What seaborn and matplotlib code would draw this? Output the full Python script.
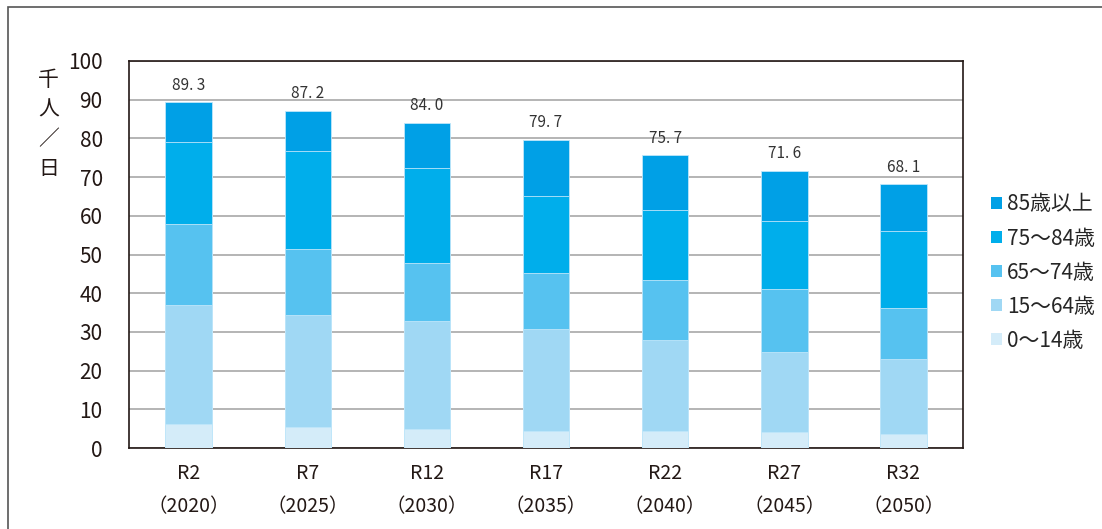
import matplotlib
matplotlib.use("Agg")
import matplotlib.pyplot as plt
import numpy as np
import pandas as pd
import seaborn as sns
from matplotlib.patches import Patch, Rectangle

# データ（千人／日）
periods = ["R2\n（2020）", "R7\n（2025）", "R12\n（2030）", "R17\n（2035）",
           "R22\n（2040）", "R27\n（2045）", "R32\n（2050）"]
age_groups = ["0～14歳", "15～64歳", "65～74歳", "75～84歳", "85歳以上"]
age_0_14 = [6.1, 5.5, 4.9, 4.4, 4.4, 4.2, 3.7]
age_15_64 = [30.9, 28.9, 27.8, 26.4, 23.5, 20.7, 19.3]
age_65_74 = [20.9, 17.0, 15.1, 14.5, 15.5, 16.3, 13.3]
age_75_84 = [21.1, 25.4, 24.5, 19.9, 18.1, 17.5, 19.8]
age_85_up = [10.3, 10.4, 11.7, 14.5, 14.2, 12.9, 12.0]
totals = [89.3, 87.2, 84.0, 79.7, 75.7, 71.6, 68.1]

colors = ["#d4ecf9", "#a0d8f4", "#56c2f0", "#00aeeb", "#00a0e6"]

sns.set_style("white")
plt.rcParams["font.family"] = ["Noto Sans CJK JP", "DejaVu Sans"]

df = pd.DataFrame({"period": periods})
series = [age_0_14, age_15_64, age_65_74, age_75_84, age_85_up]
cum = np.cumsum(np.array(series), axis=0)

fig = plt.figure(figsize=(11.02, 5.29), dpi=100)
ax = fig.add_axes([0.1171, 0.1531, 0.8739 - 0.1171, 0.8847 - 0.1531])

# 積み上げ：上の層から順に累積値を重ねて描く
for i in reversed(range(len(age_groups))):
    df["v"] = cum[i]
    sns.barplot(data=df, x="period", y="v", color=colors[i], width=0.39,
                saturation=1, edgecolor="#bfe6fa", linewidth=0.6, ax=ax, zorder=3)

for x, t in enumerate(totals):
    ax.text(x, t + 2.2, f"{t:.1f}".replace(".", ". "), ha="center", va="bottom",
            fontsize=11, color="#333333")

ax.set_ylim(0, 100)
ax.set_xlim(-0.5, 6.5)
ax.set_yticks(range(0, 101, 10))
ax.yaxis.grid(True, color="#a0a0a0", linewidth=1.1, zorder=0)
ax.set_axisbelow(True)
ax.set_xlabel("")
ax.set_ylabel("")
for s in ax.spines.values():
    s.set_color("#231815")
    s.set_linewidth(1.2)
ax.tick_params(axis="y", length=0, labelsize=15, pad=19, colors="#231815")
ax.tick_params(axis="x", length=0, labelsize=14, pad=11, colors="#231815")
for lab in ax.get_xticklabels():
    lab.set_linespacing(1.75)

fig.text(0.044, 0.765, "千\n人\n／\n日", ha="center", va="center", fontsize=15,
         linespacing=1.45, color="#231815")

handles = [Patch(facecolor=colors[i], edgecolor="none", label=age_groups[i])
           for i in reversed(range(len(age_groups)))]
fig.legend(handles=handles, loc="upper left", bbox_to_anchor=(0.892, 0.65),
           frameon=False, fontsize=15, handlelength=0.5, handleheight=0.5,
           handletextpad=0.25, labelspacing=0.58, borderaxespad=0)

# 外枠
fig.add_artist(Rectangle((8 / 1102, -0.1), 1.2, 1 - 7 / 529 + 0.1,
                         transform=fig.transFigure, fill=False,
                         edgecolor="#555555", linewidth=1.2))

fig.savefig("out.png", dpi=100)
